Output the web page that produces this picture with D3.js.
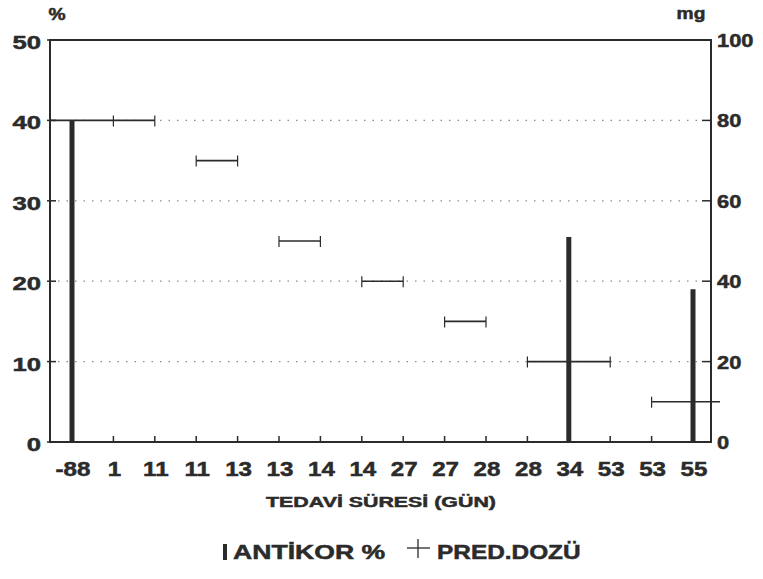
<!DOCTYPE html>
<html><head><meta charset="utf-8">
<script src="https://cdn.jsdelivr.net/npm/d3@7"></script>
<style>body{margin:0;background:#fff}svg{display:block}text{font-family:"Liberation Sans",Arial,sans-serif;font-weight:bold;fill:#2b2b2b;stroke:#2b2b2b;stroke-width:0.5px}</style>
</head><body>
<script>
// ---- data ----
const days = ["-88","1","11","11","13","13","14","14","27","27","28","28","34","53","53","55"];
const antikorIndex = [0, 12, 15];          // category index of each antibody measurement
const antikorValue = [40, 25.5, 19];       // %
const predStart = [0, 3, 5, 7, 9, 11, 14]; // category index where dose period starts
const predEnd   = [2, 4, 6, 8, 10, 13, 15];
const predDose  = [80, 70, 50, 40, 30, 20, 10]; // mg
const leftTicks = [0, 10, 20, 30, 40, 50];
const rightTicks = [0, 20, 40, 60, 80, 100];

const W = 763, H = 579;
const plotL = 50, plotR = 711, plotT = 40, plotB = 442;
const ink = "#2b2b2b";

const svg = d3.select("body").append("svg").attr("width", W).attr("height", H);

const x = d3.scaleLinear().domain([0, days.length - 1]).range([72, 693]);
const yL = d3.scaleLinear().domain([0, 50]).range([plotB, plotT]);
const yR = d3.scaleLinear().domain([0, 100]).range([plotB, plotT]);

function label(g, txt, px, py, size, sx, anchor) {
  return g.append("text").attr("transform", `translate(${px},${py}) scale(${sx},1)`)
    .attr("font-size", size).attr("text-anchor", anchor || "middle").text(txt);
}

// grid
svg.append("g").selectAll("line").data([10, 20, 30, 40]).join("line")
  .attr("x1", plotL + 8).attr("x2", plotR - 8)
  .attr("y1", d => yL(d)).attr("y2", d => yL(d))
  .attr("stroke", "#8a8a8a").attr("stroke-width", 1.2).attr("stroke-dasharray", "1.5,7");

// frame
svg.append("path").attr("d", `M${plotL},${plotB}V${plotT}H${plotR}V${plotB}Z`)
  .attr("fill", "none").attr("stroke", ink).attr("stroke-width", 2);

// left axis (inner ticks) & labels
const gl = svg.append("g");
gl.selectAll("line").data(leftTicks).join("line")
  .attr("x1", plotL - 3).attr("x2", plotL + 6).attr("y1", d => yL(d)).attr("y2", d => yL(d))
  .attr("stroke", ink).attr("stroke-width", 1.5);
leftTicks.forEach(t => label(gl, String(t), 41, yL(t) + 9, 19, 1.35, "end"));
label(gl, "%", 57, 20, 16, 1.2);

// right axis
const gr = svg.append("g");
gr.selectAll("line").data(rightTicks).join("line")
  .attr("x1", plotR - 9).attr("x2", plotR).attr("y1", d => yR(d)).attr("y2", d => yR(d))
  .attr("stroke", ink).attr("stroke-width", 1.5);
rightTicks.forEach(t => label(gr, String(t), 717, yR(t) + 7, 19, 1.15, "start"));
label(gr, "mg", 691, 19, 16, 1.2);

// x axis ticks & labels
const gx = svg.append("g");
gx.selectAll("line").data(days.map((d, i) => i)).join("line")
  .attr("x1", d => x(d)).attr("x2", d => x(d)).attr("y1", plotB).attr("y2", plotB - 6)
  .attr("stroke", ink).attr("stroke-width", 1.5);
days.forEach((d, i) => label(gx, d, x(i) + 1, 476, 21, 1.15));
label(svg, "TEDAVİ SÜRESİ (GÜN)", 381, 507, 15.5, 1.38);

// pred dose segments
const gp = svg.append("g").attr("stroke", ink).attr("stroke-width", 1.6);
predDose.forEach((v, k) => {
  const x1 = k === 0 ? plotL : x(predStart[k]);
  const x2 = k === predDose.length - 1 ? plotR + 9 : x(predEnd[k]);
  gp.append("line").attr("x1", x1).attr("x2", x2).attr("y1", yR(v)).attr("y2", yR(v));
  d3.range(predStart[k], predEnd[k] + 1).filter(i => !antikorIndex.includes(i)).forEach(i => {
    gp.append("line").attr("x1", x(i)).attr("x2", x(i))
      .attr("y1", yR(v) - 5).attr("y2", yR(v) + 6).attr("stroke-width", 1.2);
  });
});

// antibody bars
svg.append("g").selectAll("rect").data(antikorValue).join("rect")
  .attr("x", (d, i) => x(antikorIndex[i]) - 2.5).attr("width", 5)
  .attr("y", d => yL(d)).attr("height", d => yL(0) - yL(d))
  .attr("fill", ink);

// legend
const lg = svg.append("g");
lg.append("rect").attr("x", 223).attr("y", 544).attr("width", 4).attr("height", 16).attr("fill", ink);
label(lg, "ANTİKOR %", 233, 559, 20, 1.33, "start");
lg.append("line").attr("x1", 407).attr("x2", 430).attr("y1", 548).attr("y2", 548).attr("stroke", ink).attr("stroke-width", 1.3);
lg.append("line").attr("x1", 418).attr("x2", 418).attr("y1", 539).attr("y2", 558).attr("stroke", ink).attr("stroke-width", 1.3);
label(lg, "PRED.DOZÜ", 437, 559, 20, 1.22, "start");
</script>
</body></html>
